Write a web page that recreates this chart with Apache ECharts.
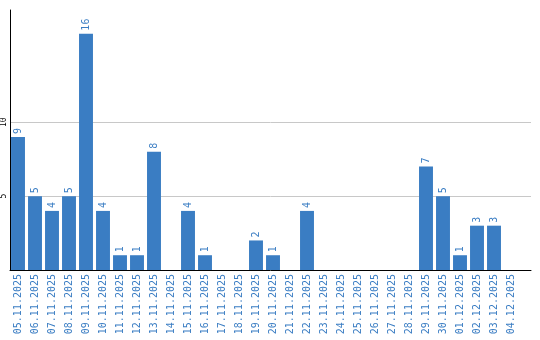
<!DOCTYPE html>
<html><head><meta charset="utf-8">
<script src="https://cdn.jsdelivr.net/npm/echarts@6/dist/echarts.min.js"></script>
<style>html,body{margin:0;padding:0;background:#fff}#c{width:540px;height:340px}</style>
</head><body><div id="c"></div>
<script>
const categories = ["05.11.2025","06.11.2025","07.11.2025","08.11.2025","09.11.2025","10.11.2025","11.11.2025","12.11.2025","13.11.2025","14.11.2025","15.11.2025","16.11.2025","17.11.2025","18.11.2025","19.11.2025","20.11.2025","21.11.2025","22.11.2025","23.11.2025","24.11.2025","25.11.2025","26.11.2025","27.11.2025","28.11.2025","29.11.2025","30.11.2025","01.12.2025","02.12.2025","03.12.2025","04.12.2025"];
const values = [9,5,4,5,16,4,1,1,8,0,4,1,0,0,2,1,0,4,0,0,0,0,0,0,7,5,1,3,3,0];
const yTicks = [5,10];
const yMax = 17.6;
const blue = '#3a7dc3';
const chart = echarts.init(document.getElementById('c'));
chart.setOption({
  animation:false,
  grid:[{left:10,right:9,top:10,bottom:70},{left:9.5,right:20.5,top:10,bottom:70}],
  xAxis:[
    {type:'value',gridIndex:0,min:0,max:1,axisLine:{show:true,onZero:false,lineStyle:{color:'#000',width:1}},
      axisTick:{show:false},axisLabel:{show:false},splitLine:{show:false}},
    {type:'category',gridIndex:1,data:categories,
      axisLine:{show:false},axisTick:{show:false},
      axisLabel:{rotate:90,interval:0,margin:4,color:blue,fontFamily:'DejaVu Sans Mono',fontSize:10}}],
  yAxis:[
    {type:'value',gridIndex:0,min:0,max:yMax,interval:5,
      axisLine:{show:true,lineStyle:{color:'#000',width:1}},axisTick:{show:false,customValues:yTicks},
      axisLabel:{customValues:yTicks,rotate:90,margin:2,color:'#000',fontFamily:'DejaVu Sans Mono',fontSize:8},
      splitLine:{show:true,lineStyle:{color:'#c8c8c8',width:1}}},
    {type:'value',gridIndex:1,min:0,max:yMax,show:false}],
  series:[{type:'bar',xAxisIndex:1,yAxisIndex:1,data:values,barCategoryGap:'18%',itemStyle:{color:blue},
    label:{show:true,position:'top',rotate:90,align:'left',verticalAlign:'middle',distance:3,
      color:blue,fontFamily:'DejaVu Sans Mono',fontSize:10,
      formatter:p=>p.value?String(p.value):''}}]
});
</script></body></html>
